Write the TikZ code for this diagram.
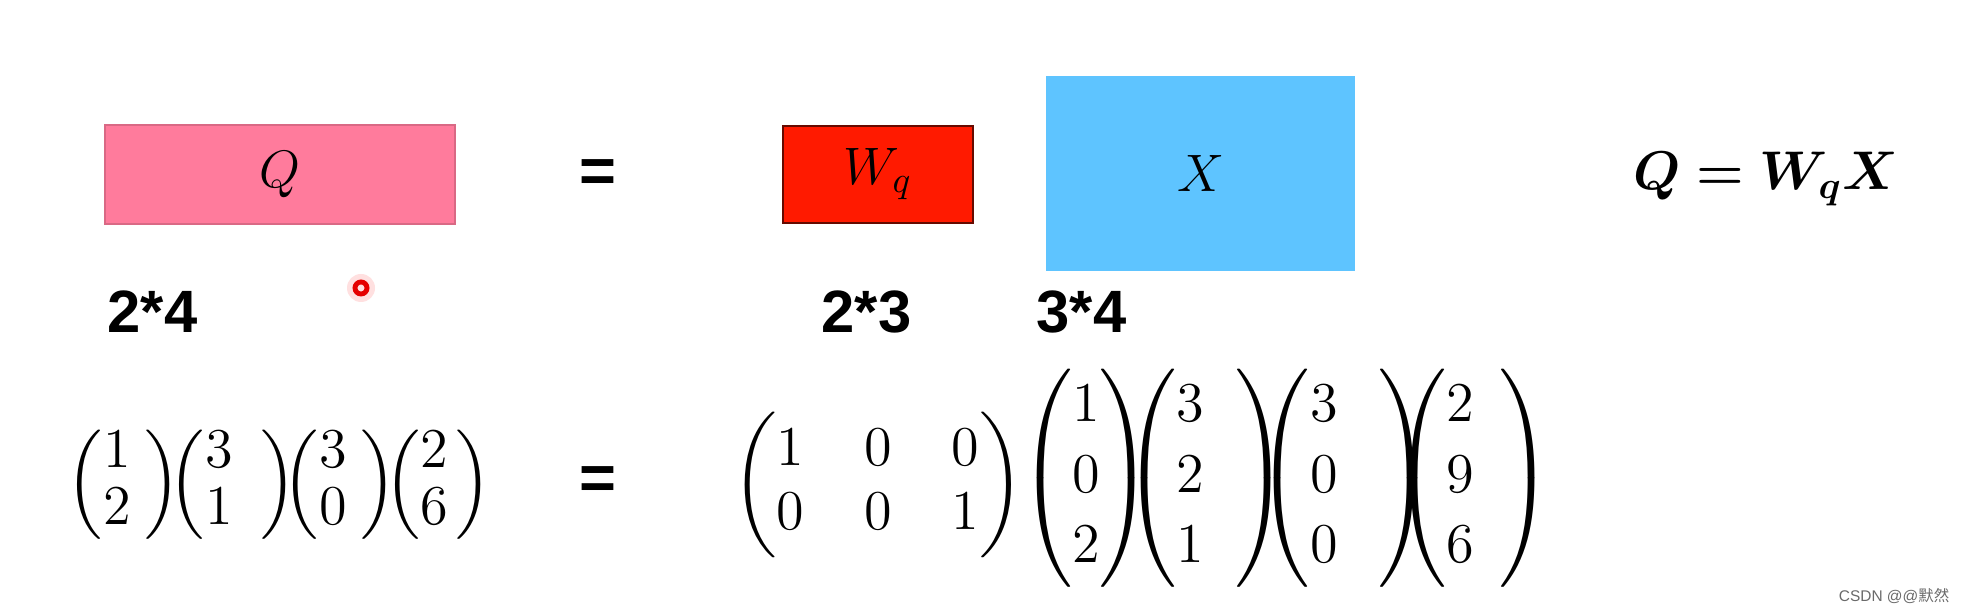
\RequirePackage{fix-cm}
\documentclass[tikz,border=0pt]{standalone}
\usepackage{amsmath,bm}
\usepackage{fontspec}
\setsansfont{Liberation Sans}
\newfontfamily\cjk{Noto Sans CJK SC}
\usepackage{tikz}
\usetikzlibrary{positioning}
\definecolor{cQ}{HTML}{FF7B9C}
\definecolor{cW}{HTML}{FF1A00}
\definecolor{cX}{HTML}{5EC4FF}
\definecolor{cMark}{HTML}{6A6A6A}
\tikzset{
  mbox/.style={inner sep=0pt, font=\fontsize{15}{18}\selectfont},
  qbox/.style={mbox, fill=cQ, draw=cQ!85!black, line width=0.3pt,
               minimum width=3.5cm, minimum height=0.99cm},
  wbox/.style={mbox, fill=cW, draw=cW!40!black, line width=0.5pt,
               minimum width=1.9cm, minimum height=0.97cm},
  xbox/.style={mbox, fill=cX, minimum width=3.09cm, minimum height=1.95cm},
  dim/.style={inner sep=0pt, anchor=west,
              font=\sffamily\bfseries\fontsize{17}{20}\selectfont},
  eqs/.style={inner sep=0pt, font=\sffamily\bfseries\fontsize{18}{21}\selectfont},
  vec/.style={inner sep=0pt, font=\fontsize{16}{19}\selectfont},
}
% column vector with an optional gap before the closing bracket
\newcommand{\twovec}[3]{\renewcommand{\arraystretch}{0.85}%
  \left(\begin{matrix}#1\\#2\end{matrix}\hspace{#3}\right)}
\newcommand{\threevec}[4]{\renewcommand{\arraystretch}{1.05}%
  \left(\begin{matrix}#1\\#2\\#3\end{matrix}\hspace{#4}\right)}

\begin{document}
\begin{tikzpicture}
  \useasboundingbox[fill=white] (0,0) rectangle (19.61,6.13);

  % top row: shapes of the matrices
  \node[qbox] (Q) at (2.80,4.385) {$Q$};
  \node[eqs] (eqtop) at (5.98,4.37) {=};
  \node[wbox] (Wq) at (8.78,4.385) {$W_q$};
  \node[xbox] (X) at (12.005,4.395) {$X$};
  \node[inner sep=0pt, font=\fontsize{15.5}{18}\selectfont] (rule) at (17.66,4.34)
    {$\bm{Q = W_q X}$};

  \node[dim] (dQ) at (1.07,3.01) {2*4};
  \node[dim] (dW) at (8.21,3.01) {2*3};
  \node[dim] (dX) at (10.36,3.01) {3*4};

  % pointer mark
  \fill[red!12] (3.61,3.25) circle (0.14);
  \draw[red!90!black, line width=1.4pt] (3.61,3.25) circle (0.06);

  % bottom row: the numbers
  \foreach \a/\b/\g/\x [count=\i] in {1/2/4pt/1.24, 3/1/8pt/2.33, 3/0/4pt/3.40, 2/6/2pt/4.38}
    \node[vec] (l\i) at (\x,1.28) {$\twovec{\a}{\b}{\g}$};
  \node[eqs] (eqbot) at (5.98,1.30) {=};
  \node[vec] (W) at (8.78,1.28)
    {$\setlength{\arraycolsep}{8.5pt}\renewcommand{\arraystretch}{0.95}%
      \begin{pmatrix}1&0&0\\0&0&1\end{pmatrix}$};
  \foreach \a/\b/\c/\g/\x [count=\i] in {1/0/2/0pt/10.86, 3/2/1/9pt/12.06,
                                         3/0/0/11.5pt/13.44, 2/9/6/7pt/14.73}
    \node[vec] (r\i) at (\x,1.35) {$\threevec{\a}{\b}{\c}{\g}$};

  \node[inner sep=0pt, anchor=east, text=cMark, font=\sffamily\fontsize{4.4}{5}\selectfont]
    (mark) at (19.50,0.17) {CSDN @@{\cjk 默然}};
\end{tikzpicture}
\end{document}
